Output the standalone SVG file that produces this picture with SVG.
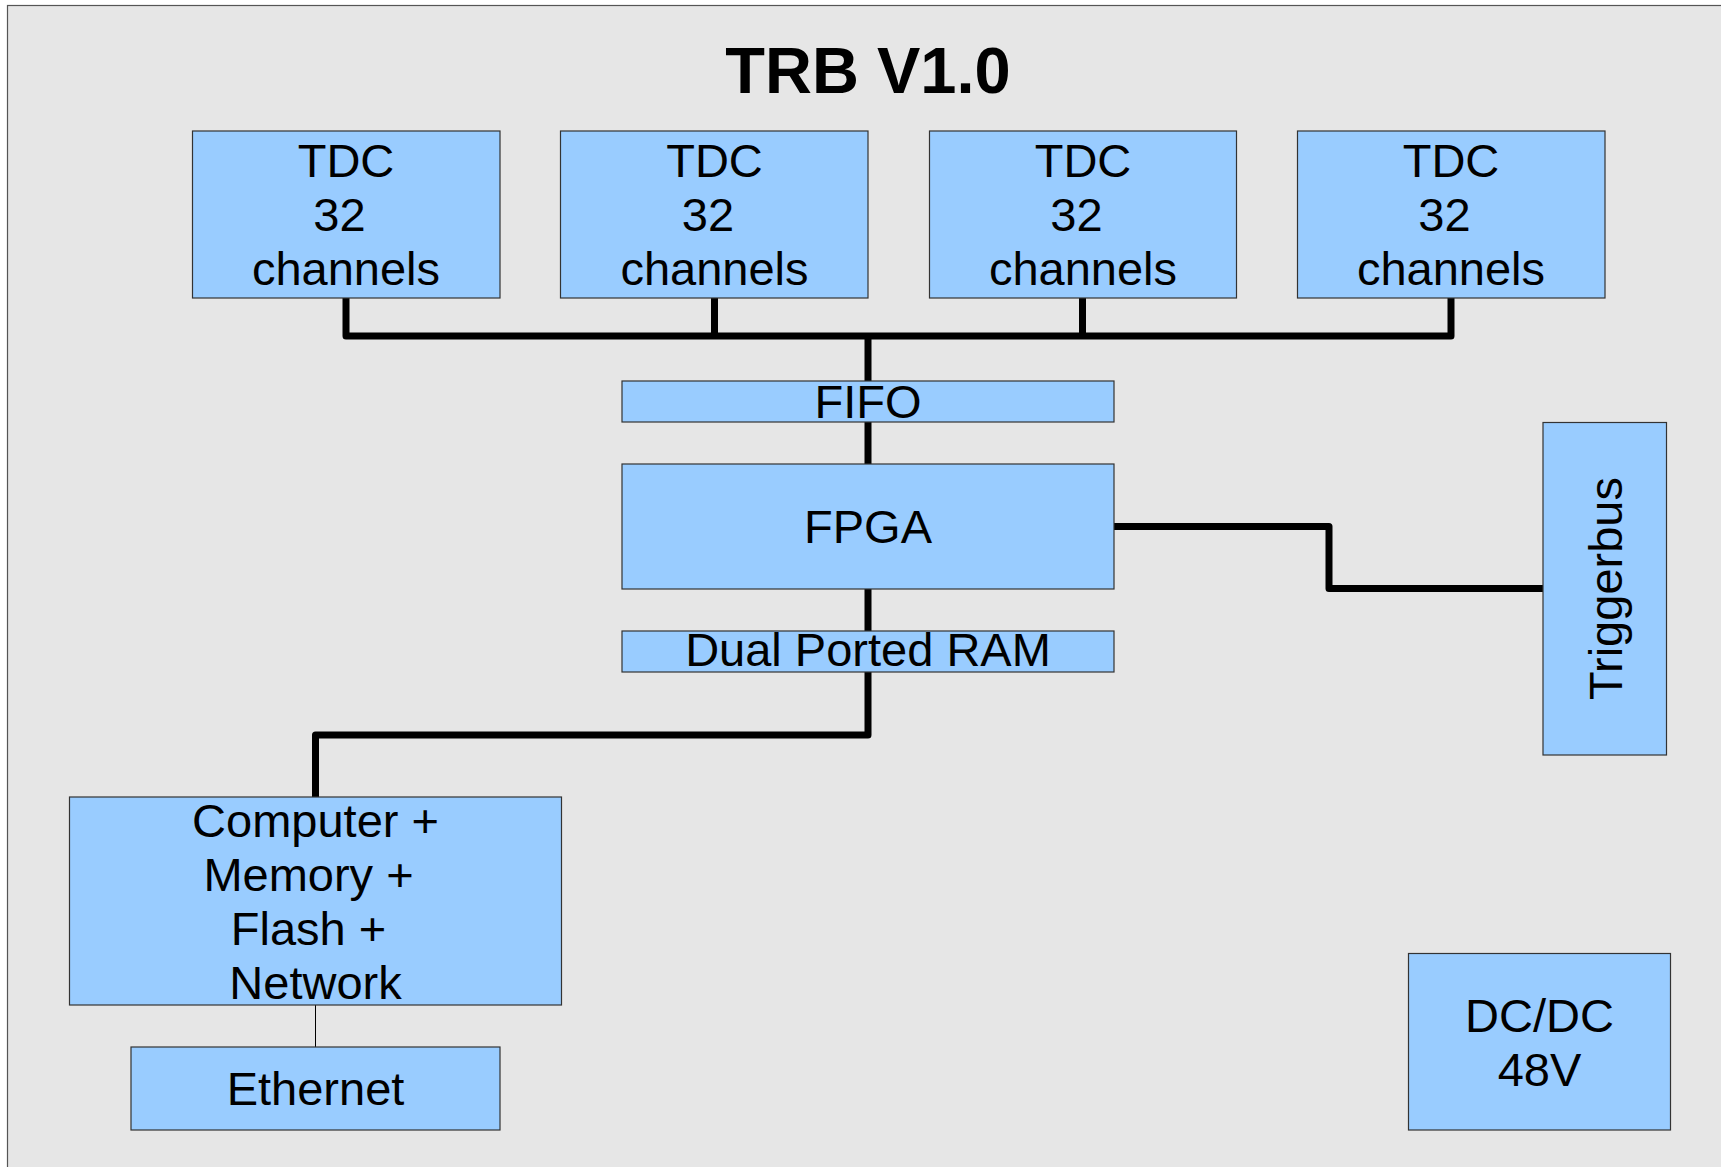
<svg xmlns="http://www.w3.org/2000/svg" width="1721" height="1167" viewBox="0 0 1721 1167">
  <style>
    .box { fill: #99ccff; stroke: #333333; stroke-width: 1.2; }
    .lbl { font-family: "Liberation Sans", Arial, sans-serif; font-size: 47px; fill: #000000; text-anchor: middle; }
    .title { font-family: "Liberation Sans", Arial, sans-serif; font-size: 65px; font-weight: bold; fill: #000000; text-anchor: middle; }
    .bus { fill: none; stroke: #000000; stroke-width: 7; stroke-linejoin: round; stroke-linecap: butt; }
    .thin { fill: none; stroke: #000000; stroke-width: 1; }
  </style>

  <!-- page -->
  <rect x="0" y="0" width="1721" height="1167" fill="#ffffff"/>
  <rect x="7.5" y="5.5" width="1800" height="1300" fill="#e6e6e6" stroke="#555555" stroke-width="1.2"/>

  <text class="title" x="868" y="93">TRB V1.0</text>

  <!-- connectors -->
  <g id="connectors">
    <path class="bus" d="M346,298 V336 H1451 V298"/>
    <path class="bus" d="M714.5,298 V336"/>
    <path class="bus" d="M1082.5,298 V336"/>
    <path class="bus" d="M868,336 V381"/>
    <path class="bus" d="M868,422 V464"/>
    <path class="bus" d="M868,589 V631"/>
    <path class="bus" d="M868,672 V735 H315.5 V797"/>
    <path class="bus" d="M1114,526.5 H1329 V588.5 H1543"/>
    <path class="thin" d="M315.5,1005 V1047"/>
  </g>

  <!-- TDC blocks -->
  <g id="tdc1">
    <rect class="box" x="192.5" y="131" width="307.5" height="167"/>
    <text class="lbl" x="346" y="177">TDC</text>
    <text class="lbl" x="339.5" y="231">32</text>
    <text class="lbl" x="346" y="285">channels</text>
  </g>
  <g id="tdc2">
    <rect class="box" x="560.5" y="131" width="307.5" height="167"/>
    <text class="lbl" x="714.5" y="177">TDC</text>
    <text class="lbl" x="708" y="231">32</text>
    <text class="lbl" x="714.5" y="285">channels</text>
  </g>
  <g id="tdc3">
    <rect class="box" x="929.5" y="131" width="307" height="167"/>
    <text class="lbl" x="1083" y="177">TDC</text>
    <text class="lbl" x="1076.5" y="231">32</text>
    <text class="lbl" x="1083" y="285">channels</text>
  </g>
  <g id="tdc4">
    <rect class="box" x="1297.5" y="131" width="307.5" height="167"/>
    <text class="lbl" x="1451" y="177">TDC</text>
    <text class="lbl" x="1444.5" y="231">32</text>
    <text class="lbl" x="1451" y="285">channels</text>
  </g>

  <g id="fifo">
    <rect class="box" x="622" y="381" width="492" height="41"/>
    <text class="lbl" x="868" y="418">FIFO</text>
  </g>

  <g id="fpga">
    <rect class="box" x="622" y="464" width="492" height="125"/>
    <text class="lbl" x="868" y="543">FPGA</text>
  </g>

  <g id="dpram">
    <rect class="box" x="622" y="631" width="492" height="41"/>
    <text class="lbl" x="868" y="666">Dual Ported RAM</text>
  </g>

  <g id="triggerbus">
    <rect class="box" x="1543" y="422.5" width="123.5" height="332.5"/>
    <text class="lbl" transform="translate(1622,588.5) rotate(-90)" x="0" y="0">Triggerbus</text>
  </g>

  <g id="computer">
    <rect class="box" x="69.5" y="797" width="492" height="208"/>
    <text class="lbl" x="315.5" y="837">Computer +</text>
    <text class="lbl" x="308.5" y="891">Memory +</text>
    <text class="lbl" x="308.5" y="944.5">Flash +</text>
    <text class="lbl" x="315.5" y="998.5">Network</text>
  </g>

  <g id="ethernet">
    <rect class="box" x="131" y="1047" width="369" height="83"/>
    <text class="lbl" x="315.5" y="1105">Ethernet</text>
  </g>

  <g id="dcdc">
    <rect class="box" x="1408.5" y="953.5" width="262" height="176.5"/>
    <text class="lbl" x="1539.5" y="1032">DC/DC</text>
    <text class="lbl" x="1539.5" y="1086">48V</text>
  </g>
</svg>
